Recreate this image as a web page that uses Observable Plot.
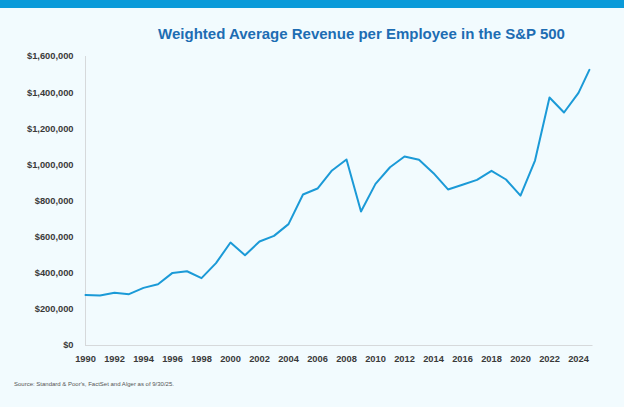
<!DOCTYPE html>
<html>
<head>
<meta charset="utf-8">
<script src="https://cdn.jsdelivr.net/npm/d3@7"></script>
<script src="https://cdn.jsdelivr.net/npm/@observablehq/plot@0.6"></script>
<style>
  html, body { margin: 0; padding: 0; background: #f2fbfe; }
  #page { position: relative; width: 624px; height: 407px; background: #f2fbfe; overflow: hidden; font-family: "Liberation Sans", Arial, sans-serif; }
  #band { position: absolute; left: 0; top: 0; width: 624px; height: 8px; background: #0a9ad9; }
  #title { position: absolute; left: 0; width: 624px; top: 26px; padding-left: 99px; box-sizing: border-box; text-align: center; font-size: 15px; line-height: 16px; font-weight: bold; color: #1d6db3; white-space: nowrap; }
  #chart { position: absolute; left: 0; top: 46px; }
  #caption { position: absolute; left: 14px; top: 380px; font-size: 6px; line-height: 8px; color: #555; }
</style>
</head>
<body>
<div id="page">
  <div id="band"></div>
  <div id="title">Weighted Average Revenue per Employee in the S&amp;P 500</div>
  <div id="chart"></div>
  <div id="caption">Source: Standard &amp; Poor's, FactSet and Alger as of 9/30/25.</div>
</div>
<script>
const years = [1990, 1991, 1992, 1993, 1994, 1995, 1996, 1997, 1998, 1999,
               2000, 2001, 2002, 2003, 2004, 2005, 2006, 2007, 2008, 2009,
               2010, 2011, 2012, 2013, 2014, 2015, 2016, 2017, 2018, 2019,
               2020, 2021, 2022, 2023, 2024, 2024.75];
const revenuePerEmployee = [280000, 277000, 292000, 284000, 319000, 339000, 402000, 411000, 373000, 456000,
                            570000, 500000, 576000, 607000, 672000, 836000, 869000, 969000, 1030000, 742000,
                            895000, 987000, 1046000, 1028000, 954000, 864000, 890000, 917000, 967000, 919000,
                            830000, 1024000, 1373000, 1290000, 1399000, 1526000];
const xTicks = [1990, 1992, 1994, 1996, 1998, 2000, 2002, 2004, 2006, 2008, 2010, 2012, 2014, 2016, 2018, 2020, 2022, 2024];
const yTicks = [0, 200000, 400000, 600000, 800000, 1000000, 1200000, 1400000, 1600000];

const data = years.map((y, i) => ({year: y, value: revenuePerEmployee[i]}));

const chart = Plot.plot({
  width: 624,
  height: 324,
  marginTop: 10,
  marginLeft: 85,
  marginRight: 31.5,
  marginBottom: 25,
  style: {background: "transparent", fontFamily: "Liberation Sans, Arial, sans-serif", fontSize: "9.3px", fontWeight: "bold", color: "#3a3a3a"},
  x: {domain: [1990, 2025]},
  y: {domain: [0, 1600000]},
  marks: [
    Plot.ruleX([1990], {stroke: "#d6d9db", strokeWidth: 1}),
    Plot.ruleY([0], {stroke: "#d6d9db", strokeWidth: 1}),
    Plot.axisX({ticks: xTicks, tickFormat: d => String(d), tickSize: 0, tickPadding: 10, label: null, fill: "#3a3a3a"}),
    Plot.axisY({ticks: yTicks, tickFormat: d3.format("$,"), tickSize: 0, tickPadding: 12, label: null, fill: "#3a3a3a"}),
    Plot.line(data, {x: "year", y: "value", stroke: "#1b9ad7", strokeWidth: 2})
  ]
});
document.getElementById("chart").appendChild(chart);
</script>
</body>
</html>
